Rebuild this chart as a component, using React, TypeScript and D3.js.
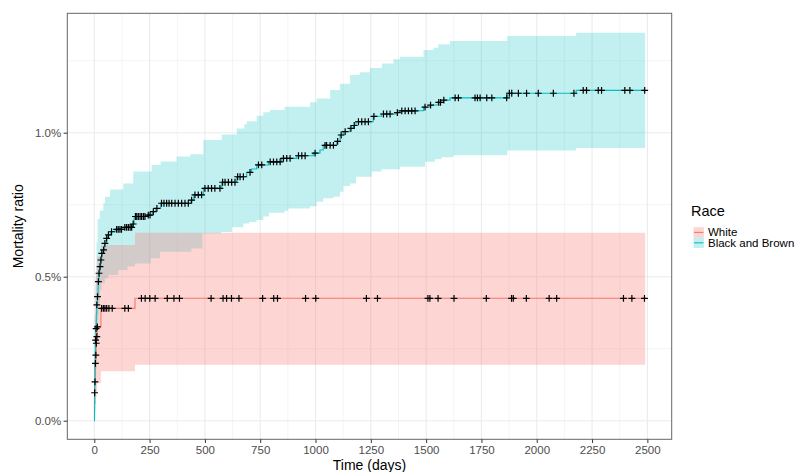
import React, { useRef, useEffect } from 'react';
import * as d3 from 'd3';

// strata
const raceGroups = ['White', 'Black and Brown'];
const raceColors = ['#F8766D', '#00BFC4'];

// White: cumulative mortality (%) step function
const whiteTime = [0, 1, 2, 4, 6, 8, 10, 13, 30, 184, 2490];
const whiteEst = [0, 0.097, 0.135, 0.199, 0.228, 0.269, 0.292, 0.326, 0.39, 0.425, 0.425];
const whiteLower = [0, 0, 0.01, 0.04, 0.06, 0.08, 0.1, 0.13, 0.172, 0.194, 0.194];
const whiteUpper = [0, 0.3, 0.36, 0.44, 0.47, 0.51, 0.53, 0.57, 0.61, 0.653, 0.653];
const whiteCensor = [1.5, 3, 5, 7, 9, 11.5, 14, 33, 41, 48, 56, 66, 81, 138, 154, 213, 230, 251, 275, 330, 360, 385,
  528, 582, 598, 620, 654, 761, 811, 828, 955, 1001, 1230, 1280, 1508, 1517, 1554, 1626, 1772, 1886, 1894, 1953,
  2056, 2090, 2392, 2430, 2487];

// Black and Brown
const blackTime = [0, 1, 2, 3, 4, 5, 7, 9, 11, 14, 17, 18, 21, 25, 29, 33, 40, 47, 55, 62, 75, 95, 135, 172, 180,
  240, 262, 278, 300, 437, 450, 493, 576, 644, 689, 711, 734, 787, 847, 915, 990, 1020, 1035, 1096, 1111, 1126,
  1156, 1171, 1183, 1261, 1299, 1367, 1382, 1488, 1518, 1555, 1578, 1608, 1867, 2178, 2490];
const blackEst = [0, 0.06, 0.13, 0.19, 0.24, 0.28, 0.32, 0.37, 0.402, 0.431, 0.46, 0.483, 0.512, 0.535, 0.558, 0.581,
  0.593, 0.616, 0.633, 0.645, 0.656, 0.664, 0.671, 0.683, 0.709, 0.714, 0.726, 0.737, 0.755, 0.766, 0.784, 0.807,
  0.828, 0.847, 0.862, 0.874, 0.888, 0.899, 0.911, 0.92, 0.929, 0.94, 0.956, 0.97, 0.992, 1.004, 1.015, 1.025,
  1.038, 1.057, 1.065, 1.07, 1.076, 1.089, 1.096, 1.105, 1.113, 1.121, 1.137, 1.147, 1.147];
const blackLowerTime = [0, 2, 5, 8, 12, 16, 20, 26, 33, 48, 63, 108, 150, 184, 255, 297, 439, 489, 573, 623, 674,
  700, 734, 764, 790, 860, 877, 975, 1005, 1035, 1081, 1111, 1126, 1156, 1183, 1254, 1299, 1382, 1495, 1540, 1570,
  1623, 1867, 2178, 2490];
const blackLower = [0, 0.03, 0.1, 0.18, 0.27, 0.35, 0.41, 0.454, 0.477, 0.494, 0.506, 0.523, 0.535, 0.546, 0.564,
  0.587, 0.598, 0.65, 0.655, 0.672, 0.685, 0.69, 0.697, 0.709, 0.722, 0.729, 0.737, 0.745, 0.76, 0.772, 0.778,
  0.795, 0.815, 0.824, 0.847, 0.865, 0.873, 0.882, 0.899, 0.908, 0.915, 0.922, 0.938, 0.947, 0.947];
const blackUpperTime = [0, 1, 3, 6, 10, 15, 25, 41, 48, 71, 131, 176, 259, 300, 372, 433, 493, 576, 644, 678, 689,
  734, 764, 794, 860, 975, 1005, 1066, 1110, 1156, 1200, 1246, 1300, 1352, 1382, 1488, 1533, 1555, 1608, 1867,
  2178, 2490];
const blackUpper = [0, 0.2, 0.35, 0.5, 0.62, 0.7, 0.73, 0.755, 0.778, 0.803, 0.824, 0.865, 0.888, 0.9, 0.917,
  0.925, 0.975, 0.994, 1.015, 1.029, 1.04, 1.059, 1.071, 1.079, 1.09, 1.106, 1.119, 1.148, 1.17, 1.2, 1.21, 1.225,
  1.24, 1.255, 1.264, 1.287, 1.295, 1.307, 1.318, 1.336, 1.347, 1.347];
const blackCensor = [6, 8, 11.5, 14.5, 18.5, 21.5, 26, 30, 34, 42, 48, 56, 64, 78, 101, 108, 116, 123, 138, 146, 154,
  162, 169, 176, 186, 192, 199, 207, 214, 222, 229, 244, 252, 267, 283, 304, 315, 327, 338, 350, 365, 380, 395, 410,
  425, 440, 455, 470, 485, 500, 515, 530, 545, 568, 580, 591, 606, 621, 636, 648, 659, 674, 704, 742, 757, 795, 810,
  825, 840, 855, 870, 885, 923, 938, 953, 998, 1043, 1050, 1066, 1081, 1100, 1116, 1134, 1160, 1175, 1194, 1209,
  1224, 1239, 1264, 1307, 1322, 1337, 1370, 1390, 1405, 1420, 1435, 1450, 1495, 1520, 1557, 1565, 1580, 1631, 1646,
  1721, 1732, 1744, 1774, 1797, 1864, 1876, 1887, 1917, 1954, 2007, 2075, 2168, 2210, 2225, 2278, 2293, 2398, 2421,
  2488];

const xTicks = [0, 250, 500, 750, 1000, 1250, 1500, 1750, 2000, 2250, 2500];
const yTicks = [0, 0.5, 1.0];
const yTickLabels = ['0.0%', '0.5%', '1.0%'];

const FONT = '"Liberation Sans", Arial, Helvetica, sans-serif';

// value of a right-continuous step function at t
const stepAt = (times: number[], vals: number[], t: number) => {
  const i = d3.bisectRight(times, t) - 1;
  return vals[Math.max(0, i)];
};

const App = () => {
  const chartRef = useRef<SVGSVGElement | null>(null);

  useEffect(() => {
    const width = 812;
    const height = 472;
    const panel = { left: 67.3, right: 671.7, top: 13.3, bottom: 439.3 };

    const svg = d3.select(chartRef.current);
    svg.selectAll('*').remove();
    svg.attr('width', width).attr('height', height);

    const x = d3.scaleLinear().domain([-122, 2610]).range([panel.left, panel.right]);
    const y = d3.scaleLinear().domain([-0.0646, 1.4146]).range([panel.bottom, panel.top]);

    svg.append('rect').attr('width', width).attr('height', height).attr('fill', '#fff');

    // grid
    const grid = svg.append('g');
    const xMinor = xTicks.slice(0, -1).map(d => d + 125).concat([-125]);
    const yMinor = [0.25, 0.75, 1.25];
    xMinor.filter(d => x(d) > panel.left && x(d) < panel.right).forEach(d => {
      grid.append('line').attr('x1', x(d)).attr('x2', x(d)).attr('y1', panel.top).attr('y2', panel.bottom)
        .attr('stroke', '#EBEBEB').attr('stroke-width', 0.55);
    });
    yMinor.forEach(d => {
      grid.append('line').attr('y1', y(d)).attr('y2', y(d)).attr('x1', panel.left).attr('x2', panel.right)
        .attr('stroke', '#EBEBEB').attr('stroke-width', 0.55);
    });
    xTicks.forEach(d => {
      grid.append('line').attr('x1', x(d)).attr('x2', x(d)).attr('y1', panel.top).attr('y2', panel.bottom)
        .attr('stroke', '#EBEBEB').attr('stroke-width', 1.1);
    });
    yTicks.forEach(d => {
      grid.append('line').attr('y1', y(d)).attr('y2', y(d)).attr('x1', panel.left).attr('x2', panel.right)
        .attr('stroke', '#EBEBEB').attr('stroke-width', 1.1);
    });

    // ribbons (Black and Brown first, White on top)
    const ribbon = (lt: number[], lv: number[], ut: number[], uv: number[]) => {
      const times = Array.from(new Set(lt.concat(ut))).sort((a, b) => a - b);
      return times.map(t => ({ t, lo: stepAt(lt, lv, t), hi: stepAt(ut, uv, t) }));
    };
    const area = d3.area<{ t: number; lo: number; hi: number }>()
      .x(d => x(d.t)).y0(d => y(d.lo)).y1(d => y(d.hi)).curve(d3.curveStepAfter);

    svg.append('path').attr('d', area(ribbon(blackLowerTime, blackLower, blackUpperTime, blackUpper)))
      .attr('fill', raceColors[1]).attr('fill-opacity', 0.24);
    svg.append('path').attr('d', area(ribbon(whiteTime, whiteLower, whiteTime, whiteUpper)))
      .attr('fill', raceColors[0]).attr('fill-opacity', 0.3);

    // step lines
    const line = d3.line<number>().curve(d3.curveStepAfter);
    const series = [
      { time: whiteTime, est: whiteEst, censor: whiteCensor, color: raceColors[0] },
      { time: blackTime, est: blackEst, censor: blackCensor, color: raceColors[1] },
    ];
    series.forEach(s => {
      line.x((_, i) => x(s.time[i])).y(d => y(d));
      svg.append('path').attr('d', line(s.est)).attr('fill', 'none')
        .attr('stroke', s.color).attr('stroke-width', 1.1);
    });

    // censor marks
    series.forEach(s => {
      svg.append('g').selectAll('path').data(s.censor).enter().append('path')
        .attr('transform', d => `translate(${x(d)},${y(stepAt(s.time, s.est, d))})`)
        .attr('d', 'M-3.4,0H3.4M0,-3.4V3.4')
        .attr('stroke', '#000').attr('stroke-width', 1.2);
    });

    // panel border
    svg.append('rect').attr('x', panel.left).attr('y', panel.top)
      .attr('width', panel.right - panel.left).attr('height', panel.bottom - panel.top)
      .attr('fill', 'none').attr('stroke', '#666').attr('stroke-width', 1);

    // axes
    const axisX = svg.append('g').attr('transform', `translate(0,${panel.bottom})`)
      .call(d3.axisBottom(x).tickValues(xTicks).tickSize(3.7).tickPadding(3).tickFormat(d3.format('d')));
    const axisY = svg.append('g').attr('transform', `translate(${panel.left},0)`)
      .call(d3.axisLeft(y).tickValues(yTicks).tickSize(3.7).tickPadding(2.5)
        .tickFormat((_, i) => yTickLabels[i]));
    [axisX, axisY].forEach(a => {
      a.select('.domain').remove();
      a.selectAll('line').attr('stroke', '#333');
      a.selectAll('text').attr('fill', '#4D4D4D').attr('font-size', 11.5).attr('font-family', FONT);
    });

    svg.append('text').attr('x', (panel.left + panel.right) / 2).attr('y', 470)
      .attr('text-anchor', 'middle').attr('font-size', 14).attr('font-family', FONT)
      .text('Time (days)');
    svg.append('text').attr('transform', `translate(23,${(panel.top + panel.bottom) / 2}) rotate(-90)`)
      .attr('text-anchor', 'middle').attr('font-size', 14).attr('font-family', FONT)
      .text('Mortality ratio');

    // legend
    const legend = svg.append('g').attr('transform', 'translate(691,0)');
    legend.append('text').attr('x', 0).attr('y', 216).attr('font-size', 14.5).attr('font-family', FONT)
      .text('Race');
    raceGroups.forEach((g, i) => {
      const ky = 227.2 + i * 10.4;
      legend.append('rect').attr('x', 2.5).attr('y', ky).attr('width', 10.4).attr('height', 10.4)
        .attr('fill', raceColors[i]).attr('fill-opacity', i === 0 ? 0.3 : 0.24);
      legend.append('line').attr('x1', 3).attr('x2', 12.4).attr('y1', ky + 5.2).attr('y2', ky + 5.2)
        .attr('stroke', raceColors[i]).attr('stroke-width', 1.1);
      legend.append('text').attr('x', 17).attr('y', ky + 5.2).attr('dy', '0.35em')
        .attr('font-size', 11.5).attr('font-family', FONT).text(g);
    });
  }, []);

  return <svg ref={chartRef} style={{ position: 'absolute', left: 0, top: 0 }} />;
};

export default App;
